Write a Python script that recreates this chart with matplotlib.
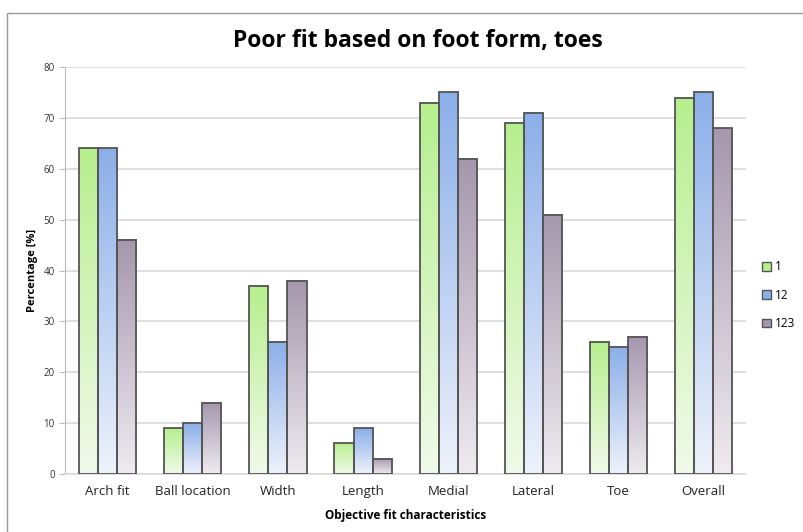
import numpy as np
import matplotlib.pyplot as plt
from matplotlib.patches import Rectangle
from matplotlib.colors import LinearSegmentedColormap

plt.rcParams['font.family'] = ['Open Sans', 'DejaVu Sans']

categories = ['Arch fit', 'Ball location', 'Width', 'Length', 'Medial', 'Lateral', 'Toe', 'Overall']
series_names = ['1', '12', '123']
vals_1 = [64, 9, 37, 6, 73, 69, 26, 74]
vals_12 = [64, 10, 26, 9, 75, 71, 25, 75]
vals_123 = [46, 14, 38, 3, 62, 51, 27, 68]

# top colour, bottom colour of each gradient fill
grad_colors = [('#b6ef8e', '#f1faea'), ('#8bafe9', '#eef2fb'), ('#a597ad', '#efebf0')]

fig = plt.figure(figsize=(8.04, 5.32), dpi=100)
ax = fig.add_axes([0.081, 0.109, 0.847, 0.765])

# outer chart border
fig.patches.append(Rectangle((0.009, -0.05), 1.1, 1.025, transform=fig.transFigure,
                             fill=False, edgecolor='#9a9a9a', linewidth=1.0))

x = np.arange(len(categories))
bw = 0.224
data = [vals_1, vals_12, vals_123]
for s, vals in enumerate(data):
    top, bot = grad_colors[s]
    cmap = LinearSegmentedColormap.from_list('g%d' % s, [bot, top])
    grad = np.linspace(0, 1, 256).reshape(-1, 1)
    for i, v in enumerate(vals):
        left = x[i] + (s - 1) * bw - bw / 2
        ax.imshow(grad, cmap=cmap, origin='lower', aspect='auto',
                  extent=(left, left + bw, 0, v), zorder=2)
        ax.add_patch(Rectangle((left, 0), bw, v, fill=False, edgecolor='#555555',
                               linewidth=1.3, zorder=3))

ax.set_xlim(-0.5, len(categories) - 0.5)
ax.set_ylim(0, 80)
ax.set_yticks(range(0, 81, 10))
ax.set_xticks(x)
ax.set_xticklabels(categories, fontsize=9.5, color='#222222')
ax.tick_params(axis='y', labelsize=7, colors='#333333', length=4, color='#bbbbbb')
ax.tick_params(axis='x', length=0, pad=8)
ax.grid(axis='y', color='#d9d9d9', linewidth=1.2, zorder=0)
ax.set_axisbelow(True)
for side in ['top', 'right']:
    ax.spines[side].set_visible(False)
ax.spines['left'].set_color('#bbbbbb')
ax.spines['bottom'].set_color('#d9d9d9')
ax.spines['bottom'].set_linewidth(1.2)

ax.set_ylabel('Percentage [%]', fontsize=8, fontweight='bold', labelpad=4)
ax.set_xlabel('Objective fit characteristics', fontsize=8.5, fontweight='bold', labelpad=8)
fig.suptitle('Poor fit based on foot form, toes', fontsize=16.5, fontweight='bold',
             x=0.52, y=0.945)

handles = [Rectangle((0, 0), 1, 1, facecolor=grad_colors[s][0], edgecolor='#555555',
                     linewidth=1.0) for s in range(3)]
fig.legend(handles, series_names, loc='center left', bbox_to_anchor=(0.938, 0.445),
           frameon=False, fontsize=8.5, handlelength=0.75, handleheight=0.75,
           handletextpad=0.3, labelspacing=1.3, borderpad=0.2)

fig.savefig('out.png', dpi=100)
